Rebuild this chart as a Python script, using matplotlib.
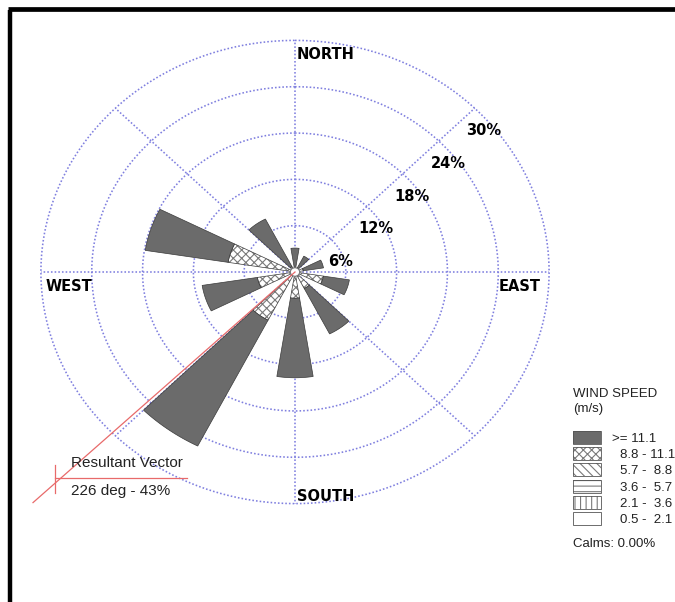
import numpy as np
import matplotlib.pyplot as plt
from matplotlib.patches import Polygon, Rectangle, Ellipse

# petal directions (deg clockwise from north), 10 sectors
directions = [0, 36, 72, 108, 144, 180, 216, 252, 288, 324]

# frequency (%) of each speed class per direction
f_05_21 = [0, 0, 0, 0, 0, 0, 0, 0, 0, 0]
f_21_36 = [0, 0, 0, 0, 0, 0, 0, 0, 0, 0]
f_36_57 = [0, 0, 0, 0, 0, 0, 0, 0, 0, 0]
f_57_88 = [0, 0, 0, 0, 0, 0, 0, 0, 0, 0]
f_88_111 = [0.6, 0.6, 1.0, 3.4, 2.4, 3.4, 7.0, 4.5, 8.0, 0.8]
f_111 = [2.5, 1.7, 2.4, 3.1, 6.6, 10.3, 18.3, 6.6, 9.9, 6.9]

class_labels = ["0.5 -  2.1", "2.1 -  3.6", "3.6 -  5.7", "5.7 -  8.8", "8.8 - 11.1", ">= 11.1"]
ring_ticks = [6, 12, 18, 24, 30]
calms = 0.00
resultant_dir = 226
resultant_pct = 43

# fill styles, inner class first
fills = [("white", None), ("white", "|||"), ("white", "---"),
         ("white", "\\\\\\\\"), ("white", "xxxx"), ("#6b6b6b", None)]
hatch_col = "#7a7a7a"
grid_col = "#7f7fdf"

plt.rcParams["hatch.linewidth"] = 0.8

fig = plt.figure(figsize=(6.75, 6.02), dpi=100)
kx, ky = 8.47, 7.72  # pixels per percent, the rose is a bit wider than tall
ax = fig.add_axes([0, 0, 1, 1])
ax.set_xlim(-295 / kx, 380 / kx)
ax.set_ylim(-330 / ky, 272 / ky)
ax.axis("off")


def sector(r0, r1, th, half=9):
    a = np.radians(np.linspace(th - half, th + half, 25))
    xs = np.concatenate([r1 * np.sin(a), r0 * np.sin(a[::-1])])
    ys = np.concatenate([r1 * np.cos(a), r0 * np.cos(a[::-1])])
    return np.column_stack([xs, ys])


# grid rings and spokes
t = np.linspace(0, 2 * np.pi, 400)
for r in ring_ticks:
    ax.plot(r * np.sin(t), r * np.cos(t), ls=(0, (1, 1.3)), color=grid_col, lw=1.15, zorder=1)
rmax = ring_ticks[-1]
for a in range(0, 360, 45):
    ar = np.radians(a)
    ax.plot([0, rmax * np.sin(ar)], [0, rmax * np.cos(ar)], ls=(0, (1, 1.3)),
            color=grid_col, lw=1.15, zorder=1)

for r in ring_ticks:
    p = r * np.sqrt(0.5)
    ax.text(p + 1.1, p - 2.9, f"{r}%", fontsize=10.5, fontweight="bold",
            family="DejaVu Sans", ha="center", va="center", zorder=5)

# petals
series = [f_05_21, f_21_36, f_36_57, f_57_88, f_88_111, f_111]
for i, d in enumerate(directions):
    r0 = 0
    for vals, (fc, hatch) in zip(series, fills):
        v = vals[i]
        if v <= 0:
            continue
        pts = sector(r0, r0 + v, d)
        ax.add_patch(Polygon(pts, closed=True, facecolor=fc, edgecolor=hatch_col,
                             hatch=hatch, lw=0, zorder=3))
        ax.add_patch(Polygon(pts, closed=True, fill=False, edgecolor="#3a3a3a",
                             lw=0.5, zorder=3))
        r0 += v

ax.add_patch(Ellipse((0, 0), 1.1, 1.1, facecolor="white", edgecolor="#777777",
                     lw=0.8, zorder=4))

# resultant vector
ra = np.radians(resultant_dir)
ax.plot([0, resultant_pct * np.sin(ra)], [0, resultant_pct * np.cos(ra)],
        color="#e86a6a", lw=0.9, zorder=4)

bold = dict(fontsize=10.5, fontweight="bold", family="DejaVu Sans", va="center", zorder=5)
ax.text(0.15, 28.2, "NORTH", ha="left", **bold)
ax.text(0.25, -29.1, "SOUTH", ha="left", **bold)
ax.text(-29.5, -1.9, "WEST", ha="left", **bold)
ax.text(29.0, -1.9, "EAST", ha="right", **bold)

# overlay in pixel units for legend, note and frame
lay = fig.add_axes([0, 0, 1, 1])
lay.set_xlim(0, 675)
lay.set_ylim(602, 0)
lay.axis("off")

lay.plot([55, 55], [465, 493], color="#e86a6a", lw=0.9)
lay.plot([55, 187], [478, 478], color="#e86a6a", lw=0.9)
reg = dict(family="Liberation Sans", color="#222222", va="center")
lay.text(71, 463, "Resultant Vector", fontsize=11, **reg)
lay.text(71, 491, f"{resultant_dir} deg - {resultant_pct}%", fontsize=11, **reg)

lay.text(573, 394, "WIND SPEED", fontsize=9.5, **reg)
lay.text(573, 409, "(m/s)", fontsize=9.5, **reg)
for k, (lab, (fc, hatch)) in enumerate(zip(class_labels[::-1], fills[::-1])):
    top = 431 + 16.2 * k
    lay.add_patch(Rectangle((573, top), 28, 13, facecolor=fc, edgecolor=hatch_col,
                            hatch=hatch, lw=0))
    lay.add_patch(Rectangle((573, top), 28, 13, fill=False, edgecolor="#555555", lw=0.6))
    x = 612 if lab.startswith(">") else 620
    lay.text(x, top + 8, lab, fontsize=9.5, **reg)
lay.text(573, 544, f"Calms: {calms:.2f}%", fontsize=9.5, **reg)

# frame
lay.plot([9.5, 9.5], [9.5, 610], color="black", lw=3.2, solid_capstyle="butt")
lay.plot([7.5, 680], [9.3, 9.3], color="black", lw=3.4, solid_capstyle="butt")

fig.savefig("out.png", dpi=100, facecolor="white")
